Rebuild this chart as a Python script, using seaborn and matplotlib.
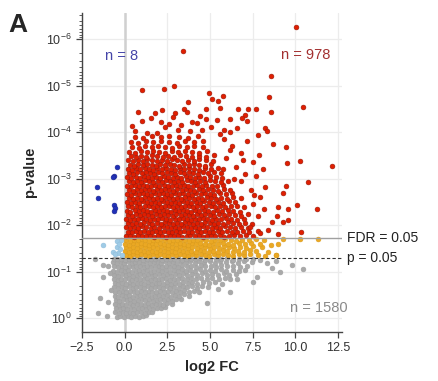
"""
Volcano plot: log2 fold change vs p-value, panel A.
Points are read off the reference figure; y values are -log10(p).
"""
import pandas as pd
import matplotlib
matplotlib.use("Agg")
import matplotlib.pyplot as plt
import seaborn as sns

# ---- data (log2 FC, -log10 p) ----
grey_points = [
    (-0.47, 0.03), (-0.26, 0.05), (-0.04, 0.02), (0.17, 0.04), (0.39, 0.03), (0.62, 0.05), (0.83, 0.02), (1.06, 0.04), (1.28, 0.06),
    (-0.55, 0.12), (-0.33, 0.10), (-0.12, 0.13), (0.09, 0.11), (0.31, 0.14), (0.52, 0.10), (0.74, 0.12), (0.96, 0.13), (1.18, 0.11), (1.40, 0.14), (1.63, 0.12),
    (-0.51, 0.21), (-0.29, 0.19), (-0.08, 0.22), (0.14, 0.20), (0.36, 0.23), (0.57, 0.19), (0.79, 0.21), (1.01, 0.22), (1.23, 0.20), (1.45, 0.23), (1.67, 0.19), (1.89, 0.22), (2.11, 0.21), (2.36, 0.24),
    (-0.57, 0.30), (-0.35, 0.28), (-0.13, 0.31), (0.08, 0.29), (0.30, 0.32), (0.51, 0.28), (0.73, 0.30), (0.95, 0.31), (1.17, 0.29), (1.39, 0.32), (1.61, 0.28), (1.82, 0.30), (2.05, 0.31), (2.27, 0.29), (2.51, 0.33), (2.77, 0.30),
    (-0.53, 0.39), (-0.31, 0.37), (-0.09, 0.40), (0.12, 0.38), (0.34, 0.41), (0.56, 0.37), (0.78, 0.39), (0.99, 0.40), (1.21, 0.38), (1.43, 0.41), (1.65, 0.37), (1.87, 0.39), (2.09, 0.40), (2.31, 0.38), (2.54, 0.41), (2.79, 0.37), (3.04, 0.40), (3.32, 0.42),
    (-0.59, 0.48), (-0.37, 0.46), (-0.15, 0.49), (0.06, 0.47), (0.28, 0.50), (0.49, 0.46), (0.71, 0.48), (0.93, 0.49), (1.15, 0.47), (1.37, 0.50), (1.59, 0.46), (1.80, 0.48), (2.02, 0.49), (2.25, 0.47), (2.48, 0.50), (2.71, 0.46), (2.95, 0.49), (3.21, 0.47), (3.47, 0.51), (3.77, 0.48),
    (-0.56, 0.57), (-0.34, 0.55), (-0.12, 0.58), (0.10, 0.56), (0.32, 0.59), (0.53, 0.55), (0.75, 0.57), (0.97, 0.58), (1.19, 0.56), (1.41, 0.59), (1.63, 0.55), (1.85, 0.57), (2.07, 0.58), (2.29, 0.56), (2.52, 0.59), (2.75, 0.55), (2.99, 0.58), (3.24, 0.56), (3.51, 0.60), (3.79, 0.57), (4.08, 0.59), (4.37, 0.56),
    (-0.61, 0.66), (-0.39, 0.64), (-0.17, 0.67), (0.04, 0.65), (0.26, 0.68), (0.48, 0.64), (0.69, 0.66), (0.91, 0.67), (1.13, 0.65), (1.35, 0.68), (1.57, 0.64), (1.79, 0.66), (2.01, 0.67), (2.23, 0.65), (2.46, 0.68), (2.69, 0.64), (2.92, 0.67), (3.16, 0.65), (3.41, 0.69), (3.67, 0.66), (3.94, 0.68), (4.24, 0.65), (4.55, 0.69), (4.87, 0.66),
    (-0.58, 0.75), (-0.36, 0.73), (-0.14, 0.76), (0.07, 0.74), (0.29, 0.77), (0.51, 0.73), (0.72, 0.75), (0.94, 0.76), (1.16, 0.74), (1.38, 0.77), (1.60, 0.73), (1.82, 0.75), (2.04, 0.76), (2.26, 0.74), (2.49, 0.77), (2.72, 0.73), (2.96, 0.76), (3.20, 0.74), (3.45, 0.78), (3.71, 0.75), (3.98, 0.77), (4.27, 0.74), (4.58, 0.78), (4.92, 0.75), (5.31, 0.77), (5.70, 0.74),
    (-0.63, 0.84), (-0.41, 0.82), (-0.19, 0.85), (0.03, 0.83), (0.24, 0.86), (0.46, 0.82), (0.68, 0.84), (0.89, 0.85), (1.11, 0.83), (1.33, 0.86), (1.55, 0.82), (1.77, 0.84), (1.99, 0.85), (2.21, 0.83), (2.44, 0.86), (2.67, 0.82), (2.90, 0.85), (3.14, 0.83), (3.39, 0.87), (3.64, 0.84), (3.91, 0.86), (4.19, 0.83), (4.49, 0.87), (4.81, 0.84), (5.15, 0.86), (5.52, 0.83), (5.88, 0.87), (6.20, 0.85),
    (-0.60, 0.93), (-0.38, 0.91), (-0.16, 0.94), (0.06, 0.92), (0.27, 0.95), (0.49, 0.91), (0.71, 0.93), (0.92, 0.94), (1.14, 0.92), (1.36, 0.95), (1.58, 0.91), (1.80, 0.93), (2.02, 0.94), (2.24, 0.92), (2.47, 0.95), (2.70, 0.91), (2.94, 0.94), (3.18, 0.92), (3.43, 0.96), (3.68, 0.93), (3.95, 0.95), (4.23, 0.92), (4.52, 0.96), (4.83, 0.93), (5.14, 0.95), (5.47, 0.92), (5.80, 0.96), (6.15, 0.93), (6.52, 0.95),
    (-0.66, 1.02), (-0.44, 1.00), (-0.22, 1.03), (0.00, 1.01), (0.21, 1.04), (0.43, 1.00), (0.65, 1.02), (0.86, 1.03), (1.08, 1.01), (1.30, 1.04), (1.52, 1.00), (1.74, 1.02), (1.96, 1.03), (2.18, 1.01), (2.41, 1.04), (2.64, 1.00), (2.87, 1.03), (3.11, 1.01), (3.35, 1.05), (3.60, 1.02), (3.86, 1.04), (4.13, 1.01), (4.41, 1.05), (4.70, 1.02), (5.00, 1.04), (5.32, 1.01), (5.64, 1.05), (5.97, 1.02), (6.33, 1.04), (6.71, 1.01), (7.05, 1.03),
    (-0.62, 1.11), (-0.40, 1.09), (-0.18, 1.12), (0.04, 1.10), (0.25, 1.13), (0.47, 1.09), (0.69, 1.11), (0.90, 1.12), (1.12, 1.10), (1.34, 1.13), (1.56, 1.09), (1.78, 1.11), (2.00, 1.12), (2.22, 1.10), (2.45, 1.13), (2.68, 1.09), (2.91, 1.12), (3.15, 1.10), (3.39, 1.14), (3.64, 1.11), (3.90, 1.13), (4.17, 1.10), (4.45, 1.14), (4.74, 1.11), (5.04, 1.13), (5.36, 1.10), (5.68, 1.14), (6.01, 1.11), (6.37, 1.13), (6.75, 1.10), (7.18, 1.12),
    (-0.68, 1.20), (-0.46, 1.18), (-0.24, 1.21), (-0.02, 1.19), (0.19, 1.22), (0.41, 1.18), (0.63, 1.20), (0.84, 1.21), (1.06, 1.19), (1.28, 1.22), (1.50, 1.18), (1.72, 1.20), (1.94, 1.21), (2.16, 1.19), (2.39, 1.22), (2.62, 1.18), (2.85, 1.21), (3.09, 1.19), (3.33, 1.23), (3.58, 1.20), (3.84, 1.22), (4.11, 1.19), (4.39, 1.23), (4.68, 1.20), (4.98, 1.22), (5.29, 1.19), (5.61, 1.23), (5.94, 1.20), (6.28, 1.22), (6.64, 1.19), (7.02, 1.23), (7.45, 1.20),
    (-0.64, 1.27), (-0.42, 1.26), (-0.20, 1.28), (0.02, 1.25), (0.23, 1.28), (0.45, 1.26), (0.67, 1.27), (0.88, 1.29), (1.10, 1.25), (1.32, 1.28), (1.54, 1.26), (1.76, 1.27), (1.98, 1.29), (2.20, 1.25), (2.43, 1.28), (2.66, 1.26), (2.89, 1.27), (3.13, 1.29), (3.37, 1.25), (3.62, 1.28), (3.88, 1.26), (4.15, 1.27), (4.43, 1.29), (4.72, 1.25), (5.02, 1.28), (5.33, 1.26), (5.66, 1.27), (5.99, 1.29), (6.34, 1.25), (6.70, 1.28), (7.10, 1.26), (7.55, 1.27), (7.95, 1.25),
    # scattered
    (-1.27, 1.14), (-0.86, 0.97), (-1.27, 0.88), (-1.45, 0.43), (-1.56, 0.11), (-1.04, 0.04), (-1.74, 1.27), (-0.98, 1.12),
    (-0.98, 0.34), (-0.80, 0.60), (4.83, 0.32), (6.17, 0.56), (7.50, 0.77), (7.74, 0.88), (8.63, 1.08), (9.10, 0.99),
    (9.81, 1.14), (10.45, 1.05), (8.34, 1.18), (8.90, 1.22), (5.45, 0.62), (6.60, 0.84),
]

orange_points = [
    (0.06, 1.36), (0.29, 1.34), (0.51, 1.37), (0.74, 1.35), (0.97, 1.38), (1.19, 1.36), (1.42, 1.34), (1.65, 1.37), (1.88, 1.35), (2.10, 1.38), (2.33, 1.36), (2.56, 1.34), (2.79, 1.37), (3.02, 1.35), (3.25, 1.38), (3.48, 1.36), (3.72, 1.34), (3.96, 1.37), (4.20, 1.35), (4.45, 1.38), (4.70, 1.36), (4.96, 1.34), (5.23, 1.37), (5.50, 1.35), (5.79, 1.38), (6.08, 1.36), (6.38, 1.34), (6.70, 1.37), (7.02, 1.35), (7.38, 1.38), (7.80, 1.36), (8.25, 1.34), (8.90, 1.35),
    (0.03, 1.44), (0.25, 1.42), (0.48, 1.45), (0.70, 1.43), (0.93, 1.46), (1.16, 1.44), (1.38, 1.42), (1.61, 1.45), (1.84, 1.43), (2.07, 1.46), (2.30, 1.44), (2.52, 1.42), (2.75, 1.45), (2.98, 1.43), (3.21, 1.46), (3.45, 1.44), (3.68, 1.42), (3.92, 1.45), (4.16, 1.43), (4.41, 1.46), (4.66, 1.44), (4.92, 1.42), (5.18, 1.45), (5.46, 1.43), (5.74, 1.46), (6.03, 1.44), (6.33, 1.42), (6.65, 1.45), (6.98, 1.43), (7.34, 1.46), (7.72, 1.44), (8.40, 1.42),
    (0.07, 1.52), (0.30, 1.50), (0.52, 1.53), (0.75, 1.51), (0.98, 1.54), (1.21, 1.52), (1.43, 1.50), (1.66, 1.53), (1.89, 1.51), (2.12, 1.54), (2.35, 1.52), (2.57, 1.50), (2.80, 1.53), (3.03, 1.51), (3.26, 1.54), (3.50, 1.52), (3.74, 1.50), (3.98, 1.53), (4.22, 1.51), (4.47, 1.54), (4.72, 1.52), (4.98, 1.50), (5.25, 1.53), (5.53, 1.51), (5.82, 1.54), (6.12, 1.52), (6.44, 1.50), (6.78, 1.53), (7.14, 1.51), (7.55, 1.54), (8.05, 1.52), (8.98, 1.60),
    (0.04, 1.60), (0.27, 1.58), (0.49, 1.61), (0.72, 1.59), (0.95, 1.62), (1.17, 1.60), (1.40, 1.58), (1.63, 1.61), (1.86, 1.59), (2.08, 1.62), (2.31, 1.60), (2.54, 1.58), (2.77, 1.61), (3.00, 1.59), (3.23, 1.62), (3.47, 1.60), (3.70, 1.58), (3.94, 1.61), (4.19, 1.59), (4.44, 1.62), (4.69, 1.60), (4.95, 1.58), (5.21, 1.61), (5.49, 1.59), (5.78, 1.62), (6.07, 1.60), (6.38, 1.58), (6.71, 1.61), (7.06, 1.59), (7.44, 1.62), (7.92, 1.60), (8.60, 1.58),
    (0.08, 1.67), (0.31, 1.66), (0.54, 1.68), (0.76, 1.67), (0.99, 1.69), (1.22, 1.67), (1.45, 1.66), (1.68, 1.68), (1.91, 1.67), (2.14, 1.69), (2.36, 1.67), (2.59, 1.66), (2.82, 1.68), (3.05, 1.67), (3.29, 1.69), (3.52, 1.67), (3.76, 1.66), (4.01, 1.68), (4.26, 1.67), (4.51, 1.69), (4.77, 1.67), (5.04, 1.66), (5.31, 1.68), (5.60, 1.67), (5.90, 1.69), (6.21, 1.67), (6.54, 1.66), (6.89, 1.68), (7.27, 1.67), (7.70, 1.69), (8.20, 1.67), (9.30, 1.70), (10.30, 1.69), (11.35, 1.71),
    (8.90, 1.35),
]

lightblue_points = [
    (-1.27, 1.57), (-0.45, 1.53), (-0.39, 1.40), (-0.68, 1.42), (-0.22, 1.68),
    (-0.27, 1.48), (-0.45, 1.66), (-0.57, 1.38), (-0.15, 1.36), (-0.35, 1.60),
]

red_points = [
    (0.08, 1.76), (0.31, 1.78), (0.55, 1.75), (0.79, 1.79), (1.02, 1.77), (1.26, 1.76), (1.50, 1.79), (1.73, 1.75), (1.97, 1.78), (2.21, 1.77), (2.44, 1.75), (2.68, 1.79), (2.92, 1.76), (3.15, 1.78), (3.39, 1.75), (3.63, 1.77), (3.86, 1.79), (4.10, 1.76), (4.34, 1.78), (4.58, 1.75), (4.82, 1.77), (5.07, 1.79), (5.32, 1.76), (5.58, 1.78), (5.85, 1.75), (6.13, 1.77), (6.42, 1.79), (6.75, 1.76), (7.12, 1.78), (7.55, 1.77),
    (0.19, 1.86), (0.43, 1.84), (0.67, 1.87), (0.90, 1.85), (1.14, 1.88), (1.38, 1.86), (1.61, 1.84), (1.85, 1.87), (2.09, 1.85), (2.32, 1.88), (2.56, 1.86), (2.80, 1.84), (3.03, 1.87), (3.27, 1.85), (3.51, 1.88), (3.74, 1.86), (3.98, 1.84), (4.22, 1.87), (4.46, 1.85), (4.70, 1.88), (4.94, 1.86), (5.19, 1.84), (5.45, 1.87), (5.71, 1.85), (5.99, 1.88), (6.27, 1.86), (6.58, 1.84), (6.92, 1.87), (7.30, 1.85), (7.80, 1.88),
    (0.10, 1.95), (0.33, 1.93), (0.57, 1.96), (0.81, 1.94), (1.04, 1.97), (1.28, 1.95), (1.52, 1.93), (1.75, 1.96), (1.99, 1.94), (2.23, 1.97), (2.46, 1.95), (2.70, 1.93), (2.94, 1.96), (3.17, 1.94), (3.41, 1.97), (3.65, 1.95), (3.88, 1.93), (4.12, 1.96), (4.36, 1.94), (4.60, 1.97), (4.85, 1.95), (5.10, 1.93), (5.35, 1.96), (5.62, 1.94), (5.90, 1.97), (6.19, 1.95), (6.50, 1.93), (6.84, 1.96), (7.22, 1.94),
    (0.21, 2.04), (0.45, 2.02), (0.69, 2.05), (0.92, 2.03), (1.16, 2.06), (1.40, 2.04), (1.63, 2.02), (1.87, 2.05), (2.11, 2.03), (2.34, 2.06), (2.58, 2.04), (2.82, 2.02), (3.05, 2.05), (3.29, 2.03), (3.53, 2.06), (3.76, 2.04), (4.00, 2.02), (4.24, 2.05), (4.48, 2.03), (4.73, 2.06), (4.98, 2.04), (5.23, 2.02), (5.49, 2.05), (5.76, 2.03), (6.05, 2.06), (6.35, 2.04), (6.68, 2.02), (7.05, 2.05), (7.48, 2.03),
    (0.09, 2.13), (0.32, 2.11), (0.56, 2.14), (0.80, 2.12), (1.03, 2.15), (1.27, 2.13), (1.51, 2.11), (1.74, 2.14), (1.98, 2.12), (2.22, 2.15), (2.45, 2.13), (2.69, 2.11), (2.93, 2.14), (3.16, 2.12), (3.40, 2.15), (3.64, 2.13), (3.87, 2.11), (4.11, 2.14), (4.36, 2.12), (4.61, 2.15), (4.86, 2.13), (5.12, 2.11), (5.38, 2.14), (5.66, 2.12), (5.95, 2.15), (6.26, 2.13), (6.60, 2.11), (7.00, 2.14),
    (0.20, 2.22), (0.44, 2.20), (0.68, 2.23), (0.91, 2.21), (1.15, 2.24), (1.39, 2.22), (1.62, 2.20), (1.86, 2.23), (2.10, 2.21), (2.33, 2.24), (2.57, 2.22), (2.81, 2.20), (3.04, 2.23), (3.28, 2.21), (3.52, 2.24), (3.75, 2.22), (3.99, 2.20), (4.23, 2.23), (4.48, 2.21), (4.73, 2.24), (4.99, 2.22), (5.25, 2.20), (5.52, 2.23), (5.81, 2.21), (6.12, 2.24), (6.45, 2.22), (6.82, 2.20), (7.25, 2.23),
    (0.11, 2.31), (0.34, 2.29), (0.58, 2.32), (0.82, 2.30), (1.05, 2.33), (1.29, 2.31), (1.53, 2.29), (1.76, 2.32), (2.00, 2.30), (2.24, 2.33), (2.47, 2.31), (2.71, 2.29), (2.95, 2.32), (3.18, 2.30), (3.42, 2.33), (3.66, 2.31), (3.90, 2.29), (4.14, 2.32), (4.39, 2.30), (4.64, 2.33), (4.90, 2.31), (5.16, 2.29), (5.44, 2.32), (5.73, 2.30), (6.04, 2.33), (6.38, 2.31), (6.76, 2.29),
    (0.22, 2.40), (0.46, 2.38), (0.70, 2.41), (0.93, 2.39), (1.17, 2.42), (1.41, 2.40), (1.64, 2.38), (1.88, 2.41), (2.12, 2.39), (2.35, 2.42), (2.59, 2.40), (2.83, 2.38), (3.06, 2.41), (3.30, 2.39), (3.54, 2.42), (3.78, 2.40), (4.02, 2.38), (4.27, 2.41), (4.52, 2.39), (4.78, 2.42), (5.04, 2.40), (5.31, 2.38), (5.60, 2.41), (5.91, 2.39), (6.24, 2.42), (6.61, 2.40), (7.02, 2.38),
    (0.12, 2.49), (0.35, 2.47), (0.59, 2.50), (0.83, 2.48), (1.06, 2.51), (1.30, 2.49), (1.54, 2.47), (1.77, 2.50), (2.01, 2.48), (2.25, 2.51), (2.48, 2.49), (2.72, 2.47), (2.96, 2.50), (3.19, 2.48), (3.43, 2.51), (3.67, 2.49), (3.91, 2.47), (4.16, 2.50), (4.41, 2.48), (4.67, 2.51), (4.93, 2.49), (5.20, 2.47), (5.49, 2.50), (5.79, 2.48), (6.12, 2.51), (6.48, 2.49),
    (0.23, 2.58), (0.47, 2.56), (0.71, 2.59), (0.94, 2.57), (1.18, 2.60), (1.42, 2.58), (1.65, 2.56), (1.89, 2.59), (2.13, 2.57), (2.36, 2.60), (2.60, 2.58), (2.84, 2.56), (3.07, 2.59), (3.31, 2.57), (3.55, 2.60), (3.79, 2.58), (4.04, 2.56), (4.29, 2.59), (4.55, 2.57), (4.81, 2.60), (5.08, 2.58), (5.37, 2.56), (5.67, 2.59), (6.00, 2.57), (6.36, 2.60), (6.80, 2.58),
    (0.13, 2.67), (0.36, 2.65), (0.60, 2.68), (0.84, 2.66), (1.07, 2.69), (1.31, 2.67), (1.55, 2.65), (1.78, 2.68), (2.02, 2.66), (2.26, 2.69), (2.49, 2.67), (2.73, 2.65), (2.97, 2.68), (3.21, 2.66), (3.45, 2.69), (3.69, 2.67), (3.94, 2.65), (4.19, 2.68), (4.45, 2.66), (4.71, 2.69), (4.98, 2.67), (5.27, 2.65), (5.58, 2.68), (5.92, 2.66), (6.30, 2.69),
    (0.24, 2.76), (0.48, 2.74), (0.72, 2.77), (0.95, 2.75), (1.19, 2.78), (1.43, 2.76), (1.66, 2.74), (1.90, 2.77), (2.14, 2.75), (2.38, 2.78), (2.62, 2.76), (2.86, 2.74), (3.10, 2.77), (3.34, 2.75), (3.58, 2.78), (3.83, 2.76), (4.08, 2.74), (4.34, 2.77), (4.60, 2.75), (4.88, 2.78), (5.17, 2.76), (5.48, 2.74), (5.82, 2.77), (6.20, 2.75),
    (0.14, 2.85), (0.37, 2.83), (0.61, 2.86), (0.85, 2.84), (1.08, 2.87), (1.32, 2.85), (1.56, 2.83), (1.80, 2.86), (2.04, 2.84), (2.28, 2.87), (2.52, 2.85), (2.76, 2.83), (3.00, 2.86), (3.24, 2.84), (3.49, 2.87), (3.74, 2.85), (3.99, 2.83), (4.25, 2.86), (4.52, 2.84), (4.80, 2.87), (5.10, 2.85), (5.42, 2.83), (5.77, 2.86),
    (0.25, 2.94), (0.49, 2.92), (0.73, 2.95), (0.97, 2.93), (1.21, 2.96), (1.45, 2.94), (1.69, 2.92), (1.93, 2.95), (2.17, 2.93), (2.41, 2.96), (2.65, 2.94), (2.89, 2.92), (3.13, 2.95), (3.38, 2.93), (3.63, 2.96), (3.88, 2.94), (4.14, 2.92), (4.41, 2.95), (4.69, 2.93), (4.98, 2.96), (5.30, 2.94), (5.65, 2.92), (6.05, 2.95),
    (0.16, 3.03), (0.40, 3.01), (0.64, 3.04), (0.88, 3.02), (1.12, 3.05), (1.36, 3.03), (1.60, 3.01), (1.84, 3.04), (2.08, 3.02), (2.32, 3.05), (2.57, 3.03), (2.82, 3.01), (3.07, 3.04), (3.32, 3.02), (3.58, 3.05), (3.84, 3.03), (4.11, 3.01), (4.39, 3.04), (4.68, 3.02), (4.99, 3.05), (5.33, 3.03), (5.72, 3.01),
    (0.27, 3.12), (0.51, 3.10), (0.75, 3.13), (0.99, 3.11), (1.23, 3.14), (1.47, 3.12), (1.72, 3.10), (1.97, 3.13), (2.22, 3.11), (2.47, 3.14), (2.72, 3.12), (2.97, 3.10), (3.23, 3.13), (3.49, 3.11), (3.76, 3.14), (4.03, 3.12), (4.31, 3.10), (4.60, 3.13), (4.91, 3.11), (5.25, 3.14), (5.64, 3.12),
    (0.18, 3.21), (0.42, 3.19), (0.67, 3.22), (0.92, 3.20), (1.17, 3.23), (1.42, 3.21), (1.67, 3.19), (1.92, 3.22), (2.18, 3.20), (2.44, 3.23), (2.70, 3.21), (2.96, 3.19), (3.23, 3.22), (3.50, 3.20), (3.78, 3.23), (4.07, 3.21), (4.37, 3.19), (4.69, 3.22), (5.04, 3.20), (5.45, 3.23),
    (0.30, 3.30), (0.55, 3.28), (0.80, 3.31), (1.06, 3.29), (1.32, 3.32), (1.58, 3.30), (1.84, 3.28), (2.10, 3.31), (2.37, 3.29), (2.64, 3.32), (2.91, 3.30), (3.19, 3.28), (3.47, 3.31), (3.76, 3.29), (4.06, 3.32), (4.37, 3.30), (4.70, 3.28), (5.08, 3.31),
    (0.22, 3.39), (0.50, 3.37), (0.78, 3.40), (1.06, 3.38), (1.34, 3.41), (1.62, 3.39), (1.90, 3.37), (2.19, 3.40), (2.48, 3.38), (2.78, 3.41), (3.08, 3.39), (3.39, 3.37), (3.71, 3.40), (4.04, 3.38), (4.39, 3.41), (4.77, 3.39), (5.20, 3.37),
    (0.35, 3.48), (0.66, 3.46), (0.97, 3.49), (1.28, 3.47), (1.60, 3.50), (1.92, 3.48), (2.24, 3.46), (2.57, 3.49), (2.91, 3.47), (3.25, 3.50), (3.60, 3.48), (3.96, 3.46), (4.34, 3.49), (4.75, 3.47), (5.22, 3.50),
    (0.28, 3.58), (0.62, 3.56), (0.96, 3.59), (1.31, 3.57), (1.66, 3.60), (2.02, 3.58), (2.38, 3.56), (2.75, 3.59), (3.13, 3.57), (3.52, 3.60), (3.93, 3.58), (4.36, 3.56), (4.82, 3.59),
    (0.45, 3.68), (0.82, 3.66), (1.20, 3.69), (1.59, 3.67), (1.98, 3.70), (2.38, 3.68), (2.79, 3.66), (3.21, 3.69), (3.64, 3.67), (4.09, 3.70), (4.57, 3.68),
    (0.38, 3.79), (0.80, 3.77), (1.23, 3.80), (1.67, 3.78), (2.12, 3.81), (2.58, 3.79), (3.05, 3.77), (3.54, 3.80), (4.05, 3.78), (4.60, 3.81),
    (0.62, 3.90), (1.10, 3.88), (1.60, 3.91), (2.11, 3.89), (2.63, 3.92), (3.16, 3.90), (3.71, 3.88), (4.28, 3.91),
    # sparse upper part and right fringe
    (10.04, 6.26), (3.42, 5.74), (1.01, 4.90), (2.30, 4.92), (2.89, 5.00), (0.78, 4.43), (4.94, 4.84), (8.57, 5.20),
    (8.46, 4.75), (10.45, 4.54), (8.57, 4.43), (8.69, 3.74), (9.45, 3.68), (9.50, 3.33), (10.27, 3.38), (12.15, 3.27),
    (10.74, 2.92), (9.45, 2.84), (11.27, 2.34), (10.10, 2.43), (10.33, 1.85), (9.57, 2.34), (8.98, 2.39), (9.28, 2.69),
    (8.22, 2.82), (7.93, 2.60), (8.93, 2.19), (9.57, 2.11), (9.28, 2.06), (8.63, 2.06), (8.98, 1.81), (8.40, 1.89),
    (2.19, 4.47), (1.01, 4.24), (3.71, 4.65), (3.48, 4.49), (3.65, 4.43), (2.83, 4.32), (2.13, 4.22), (2.36, 4.11),
    (3.94, 4.22), (4.23, 4.19), (1.30, 3.99), (1.89, 3.98), (3.12, 4.04), (5.12, 4.71), (5.47, 4.67), (5.76, 4.77),
    (5.59, 4.52), (4.77, 4.49), (6.64, 4.49), (7.23, 4.49), (7.69, 4.49), (7.05, 4.37), (6.87, 4.30), (7.17, 4.24),
    (6.17, 4.28), (6.58, 4.09), (7.81, 3.94), (8.22, 4.09), (8.34, 4.02), (0.45, 4.12), (1.55, 4.30), (2.60, 4.18),
    (3.30, 4.15), (4.55, 4.05), (5.05, 4.10), (5.40, 4.25), (5.85, 4.05), (4.40, 4.35), (1.80, 4.40), (0.60, 4.02),
    (4.80, 4.28), (2.95, 4.42), (6.20, 4.00), (3.85, 4.02), (5.80, 3.85), (6.30, 3.70), (6.80, 3.55), (7.20, 3.80),
    (5.95, 3.45), (6.55, 3.25), (7.05, 3.10), (7.55, 3.35), (6.20, 3.62), (5.75, 3.20), (6.85, 2.95), (7.40, 2.75),
    (7.70, 3.05), (6.40, 3.00), (5.60, 3.95), (6.95, 3.40), (7.90, 3.50), (8.10, 3.20), (7.50, 2.45), (7.80, 2.20),
    (7.35, 1.95), (7.95, 1.82), (8.20, 2.35), (7.60, 2.65),
]

blue_points = [
    (-0.47, 3.25), (-0.63, 3.05), (-0.68, 3.03), (-1.62, 2.82),
    (-1.56, 2.58), (-0.63, 2.43), (-0.57, 2.37), (-0.63, 2.30),
]

groups = ["ns", "p05_up", "p05_down", "fdr_up", "fdr_down"]
group_points = [grey_points, orange_points, lightblue_points, red_points, blue_points]
face_colors = ["#a9a9a9", "#eaa824", "#9fcbe6", "#e01e00", "#2030b8"]
edge_colors = ["#a0a0a0", "#dc9c1c", "#92bfdc", "#9a1a0c", "#1a2490"]

count_labels = ["n = 8", "n = 978", "n = 1580"]
fdr_cutoff_p = 0.019
p_cutoff = 0.05

frames = []
for name, pts in zip(groups, group_points):
    df = pd.DataFrame(pts, columns=["log2fc", "nlog10p"])
    df["group"] = name
    frames.append(df)
data = pd.concat(frames, ignore_index=True)
data["p"] = 10.0 ** (-data["nlog10p"])

sns.set_theme(style="ticks")
plt.rcParams["font.family"] = ["Liberation Sans", "DejaVu Sans"]
plt.rcParams["mathtext.fontset"] = "custom"
plt.rcParams["mathtext.rm"] = "Liberation Sans"

fig = plt.figure(figsize=(4.39, 3.81), dpi=100)
ax = fig.add_axes([0.1868, 0.1286, 0.5923, 0.8373])

for name, fc, ec in zip(groups, face_colors, edge_colors):
    sub = data[data["group"] == name]
    sns.scatterplot(data=sub, x="log2fc", y="p", color=fc, edgecolor=ec,
                    linewidth=0.4, s=12, legend=False, ax=ax, zorder=3)

ax.set_yscale("log")
ax.set_ylim(10 ** 0.30, 10 ** -6.56)
ax.set_xlim(-2.5, 12.75)
ax.set_xticks([-2.5, 0, 2.5, 5, 7.5, 10, 12.5])
ax.set_yticks([1, 1e-1, 1e-2, 1e-3, 1e-4, 1e-5, 1e-6])

ax.grid(True, which="major", color="#ececec", lw=0.9, zorder=0)
ax.set_axisbelow(True)
ax.axvline(0, color="#d0d0d0", lw=1.8, zorder=1)

# threshold lines
ax.axhline(fdr_cutoff_p, color="#a0a0a0", lw=1.0, zorder=4)
ax.axhline(p_cutoff, color="#333333", lw=0.8, ls=(0, (3, 2)), zorder=4)
trans = ax.get_yaxis_transform()
ax.text(1.02, fdr_cutoff_p, "FDR = 0.05", transform=trans, fontsize=10,
        va="center", ha="left", color="#222222", clip_on=False)
ax.text(1.02, p_cutoff, "p = 0.05", transform=trans, fontsize=10,
        va="center", ha="left", color="#222222", clip_on=False)

ax.text(-1.15, 10 ** -5.63, count_labels[0], color="#4545a8", fontsize=10.5,
        ha="left", va="center")
ax.text(12.05, 10 ** -5.66, count_labels[1], color="#a33030", fontsize=10.5,
        ha="right", va="center")
ax.text(1.02, 10 ** -0.22, count_labels[2], transform=trans, color="#8a8a8a",
        fontsize=10.5, ha="right", va="center", clip_on=False)

sns.despine(ax=ax)
for side in ["left", "bottom"]:
    ax.spines[side].set_color("#444444")
    ax.spines[side].set_linewidth(1.0)
ax.tick_params(axis="both", which="major", labelsize=9, length=4,
               width=0.9, color="#444444", labelcolor="#333333")
ax.tick_params(axis="y", which="minor", length=2, width=0.6, color="#444444")

ax.set_xlabel("log2 FC", fontsize=10.5, fontweight="bold", labelpad=4)
ax.set_ylabel("p-value", fontsize=10.5, fontweight="bold", labelpad=6)

fig.text(8 / 439, 1 - 32 / 381, "A", fontsize=19, fontweight="bold",
         ha="left", va="baseline")

fig.savefig("out.png", dpi=100)
